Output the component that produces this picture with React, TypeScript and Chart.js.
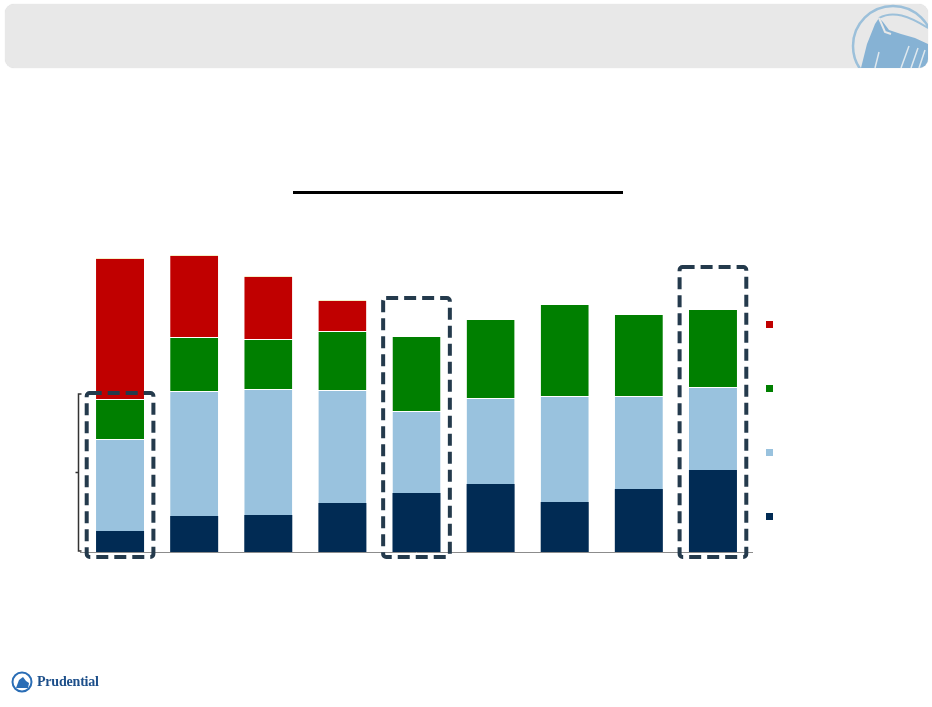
import React, { FC, useEffect, useRef } from "react";
import { Chart, registerables } from "chart.js";

Chart.register(...registerables);

// one category per bar, no labels are shown in the picture
const categories = ["1", "2", "3", "4", "5", "6", "7", "8", "9"];

// stacked from the bottom up
const navyValues = [21, 36, 37, 49, 59, 68, 50, 63, 82];
const lightBlueValues = [92, 125, 126, 113, 82, 86, 106, 93, 83];
const greenValues = [40, 54, 50, 59, 75, 79, 92, 82, 78];
const redValues = [141, 82, 63, 31, null, null, null, null, null];

// dashed highlight boxes: bar index and top of the box in data units
const highlightIndex = [0, 4, 8];
const highlightTop = [159, 254, 285];

const NAVY = "#012b54";
const LIGHT_BLUE = "#99c2de";
const GREEN = "#007f00";
const RED = "#c00000";

const overlayPlugin = {
  id: "overlay",
  afterDatasetsDraw(chart: any) {
    const { ctx, chartArea, scales } = chart;
    const x = scales.x;
    const y = scales.y;
    const bottom = chartArea.bottom;

    ctx.save();

    // baseline
    ctx.strokeStyle = "#8c8c8c";
    ctx.lineWidth = 1;
    ctx.beginPath();
    ctx.moveTo(chartArea.left - 3, bottom + 0.5);
    ctx.lineTo(chartArea.right + 3, bottom + 0.5);
    ctx.stroke();

    // dashed boxes
    const half = (chartArea.right - chartArea.left) / categories.length * 0.45;
    ctx.strokeStyle = "#243a4c";
    ctx.lineWidth = 4;
    ctx.setLineDash([12, 6]);
    highlightIndex.forEach((idx, k) => {
      const cx = x.getPixelForValue(idx);
      const top = y.getPixelForValue(highlightTop[k]);
      ctx.beginPath();
      ctx.roundRect(cx - half, top, half * 2, bottom + 5 - top, 3);
      ctx.stroke();
    });
    ctx.setLineDash([]);

    // bracket on the left of the first bar
    const bTop = y.getPixelForValue(highlightTop[0]) + 1;
    const bBottom = bottom - 1;
    const bx = chartArea.left - 4.5;
    const mid = (bTop + bBottom) / 2;
    ctx.strokeStyle = "#333";
    ctx.lineWidth = 1.5;
    ctx.beginPath();
    ctx.moveTo(bx + 3, bTop);
    ctx.lineTo(bx, bTop);
    ctx.lineTo(bx, bBottom);
    ctx.lineTo(bx + 3, bBottom);
    ctx.moveTo(bx, mid);
    ctx.lineTo(bx - 3, mid);
    ctx.stroke();

    // legend squares, top item first
    const legendColors = [RED, GREEN, LIGHT_BLUE, NAVY];
    legendColors.forEach((c, i) => {
      ctx.fillStyle = c;
      ctx.fillRect(chartArea.right + 16, 321 + i * 64, 7, 7);
    });

    ctx.restore();
  },
};

const App: FC = () => {
  const canvasRef = useRef<HTMLCanvasElement>(null);

  useEffect(() => {
    if (!canvasRef.current) return;
    const top1 = { top: 1, left: 0, right: 0, bottom: 0 };
    const chart = new Chart(canvasRef.current, {
      type: "bar",
      data: {
        labels: categories,
        datasets: [
          { data: navyValues, backgroundColor: NAVY, borderColor: "#ffffff", borderWidth: 0 },
          { data: lightBlueValues, backgroundColor: LIGHT_BLUE, borderColor: "#ffffff", borderWidth: top1 },
          { data: greenValues, backgroundColor: GREEN, borderColor: "#ffffff", borderWidth: top1 },
          { data: redValues as any, backgroundColor: RED, borderColor: "#f4f0c8", borderWidth: top1 },
        ],
      },
      options: {
        animation: false,
        responsive: true,
        maintainAspectRatio: false,
        layout: { padding: { left: 83, right: 182, top: 252, bottom: 155 } },
        datasets: { bar: { categoryPercentage: 1, barPercentage: 0.648, borderSkipped: "bottom" } },
        scales: {
          x: { stacked: true, display: false },
          y: { stacked: true, display: false, min: 0, max: 300 },
        },
        plugins: { legend: { display: false }, tooltip: { enabled: false } },
      },
      plugins: [overlayPlugin],
    });
    return () => {
      chart.destroy();
    };
  }, []);

  return (
    <div style={{ position: "absolute", left: 0, top: 0, width: 932, height: 707, background: "#fff", overflow: "hidden" }}>
      {/* header band */}
      <div
        style={{
          position: "absolute",
          left: 5,
          top: 4,
          width: 923,
          height: 64,
          background: "#e8e8e8",
          borderRadius: 9,
          overflow: "hidden",
          boxShadow: "0 0 1px #d0d0d0",
        }}
      >
        <svg width={923} height={64} style={{ position: "absolute", left: 0, top: 0 }}>
          <circle cx={888} cy={42} r={40} fill="none" stroke="#9cc0da" strokeWidth={2.5} />
          <polygon
            points="856,64 862,40 866,30 870,20 874,14 878,18 884,26 896,30 910,34 923,40 923,64"
            fill="#86b2d4"
          />
          <path d="M874,14 C888,6 904,12 923,24" fill="none" stroke="#9cc0da" strokeWidth={2} />
          <path d="M874,14 L880,28 L886,30" fill="none" stroke="#e8e8e8" strokeWidth={2} />
          <path d="M896,64 L904,42 M906,64 L913,44 M914,64 L920,46 M870,64 L874,48" stroke="#dfe8ee" strokeWidth={1.5} />
        </svg>
      </div>

      {/* title underline */}
      <div style={{ position: "absolute", left: 293, top: 191, width: 330, height: 3, background: "#000" }} />

      <div style={{ position: "absolute", left: 0, top: 0, width: 932, height: 707 }}>
        <canvas ref={canvasRef}></canvas>
      </div>

      {/* footer logo */}
      <svg width={24} height={22} style={{ position: "absolute", left: 11, top: 671 }}>
        <circle cx={11} cy={11} r={9.5} fill="#ffffff" stroke="#2a6db5" strokeWidth={2} />
        <polygon points="5,17 8,9 12,6 15,10 18,12 17,17" fill="#2a6db5" />
      </svg>
      <div
        style={{
          position: "absolute",
          left: 37,
          top: 674,
          fontFamily: "'Liberation Serif', 'DejaVu Serif', serif",
          fontWeight: "bold",
          fontSize: 14,
          color: "#1d4f8a",
          letterSpacing: -0.2,
        }}
      >
        Prudential
      </div>
    </div>
  );
};

export default App;
